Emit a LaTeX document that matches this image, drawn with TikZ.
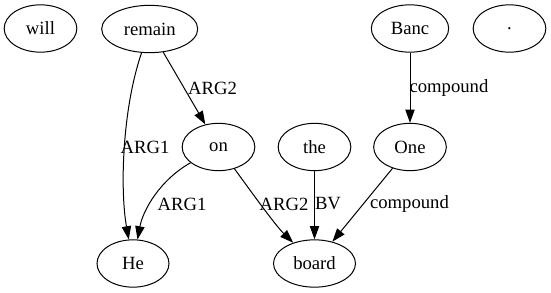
\documentclass[tikz,border=0pt]{standalone}
\usepackage{fontspec}
\setmainfont{Liberation Serif}
\usetikzlibrary{shapes.geometric,arrows.meta}
\begin{document}
\begin{tikzpicture}[x={(0.75pt,0)},y={(0,-0.75pt)},
  word/.style={draw,ellipse,line width=0.75pt,inner sep=0pt,minimum height=35.5pt,
    font=\fontsize{14}{16}\selectfont},
  rel/.style={draw,line width=0.75pt,-{Triangle[length=10pt,width=7pt]}},
  lbl/.style={inner sep=0pt,font=\fontsize{14}{16}\selectfont}]
\useasboundingbox (0,0) rectangle (551,293);
% top row
\node[word,minimum width=54.5pt] (will)   at (40.5,28.5) {will};
\node[word,minimum width=72pt]   (remain) at (149.7,29)  {remain};
\node[word,minimum width=58pt]   (banc)   at (410,28.5)  {Banc};
\node[word,minimum width=54.5pt] (dot)    at (509.5,28.5) {.};
% middle row
\node[word,minimum width=54.5pt] (on)  at (218.5,147) {on};
\node[word,minimum width=54.5pt] (the) at (314.5,147) {the};
\node[word,minimum width=54.5pt] (one) at (410,147)   {One};
% bottom row
\node[word,minimum width=54pt]   (he)    at (133,263.5)   {He};
\node[word,minimum width=61.5pt] (board) at (314.5,263.5) {board};
% relations
\draw[rel] (remain) .. controls (122,110) and (120,190) .. (he);
\draw[rel] (remain) -- (on);
\draw[rel] (on) .. controls (160,180) and (143,210) .. (he);
\draw[rel] (on) .. controls (250,190) and (275,225) .. (board);
\draw[rel] (the) -- (board);
\draw[rel] (one) -- (board);
\draw[rel] (banc) -- (one);
% relation labels
\node[lbl] (l1) at (145,147)   {ARG1};
\node[lbl] (l2) at (212.5,88)  {ARG2};
\node[lbl] (l3) at (182,204)   {ARG1};
\node[lbl] (l4) at (284,204)   {ARG2};
\node[lbl] (l5) at (328,204)   {BV};
\node[lbl] (l6) at (409.5,204) {compound};
\node[lbl] (l7) at (449,88)    {compound};
\end{tikzpicture}
\end{document}
